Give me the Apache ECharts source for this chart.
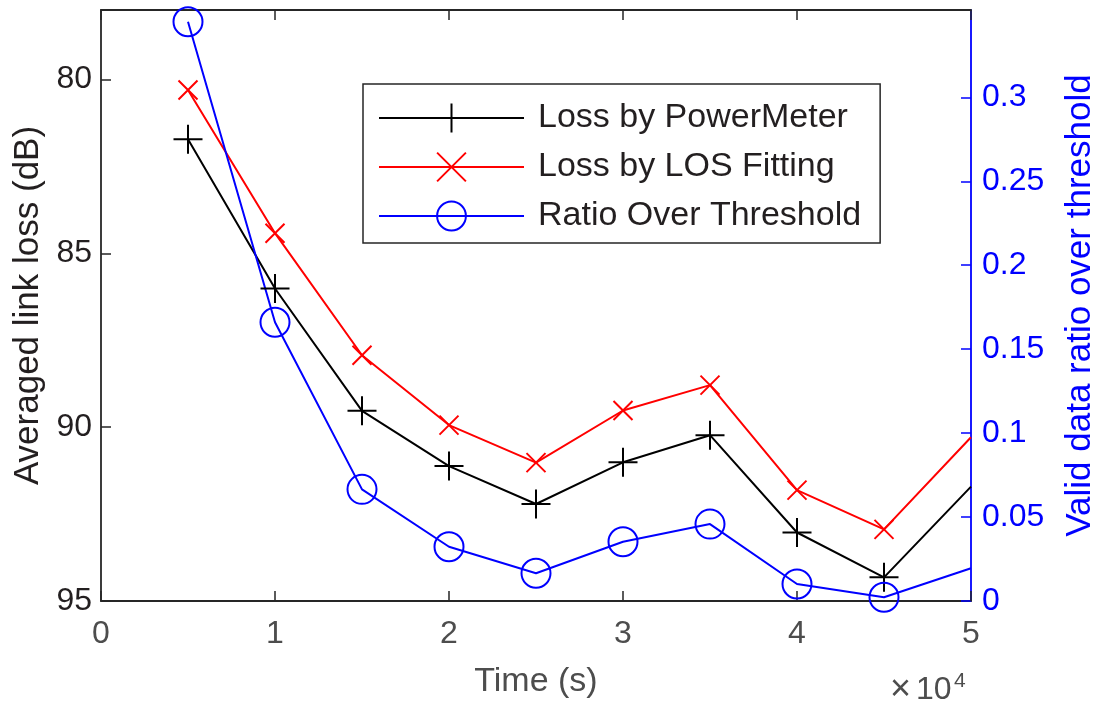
<!DOCTYPE html>
<html>
<head>
<meta charset="utf-8">
<script src="https://cdn.jsdelivr.net/npm/echarts@6/dist/echarts.min.js"></script>
<style>
html,body{margin:0;padding:0;background:#fff;}
#chart{width:1099px;height:710px;}
</style>
</head>
<body>
<div id="chart"></div>
<script>
// ---- data ----
const times = [5000, 10000, 15000, 20000, 25000, 30000, 35000, 40000, 45000, 50000];
const lossPowerMeter = [81.72, 86.01, 89.53, 91.12, 92.21, 91.01, 90.23, 93.03, 94.32, 91.71];
const lossLOSFitting = [80.30, 84.42, 87.93, 89.94, 91.02, 89.52, 88.79, 91.81, 92.94, 90.29];
const ratioOverThreshold = [0.345, 0.166, 0.0665, 0.0323, 0.0165, 0.0353, 0.0458, 0.0101, 0.0022, 0.0195];
const seriesNames = ['Loss by PowerMeter', 'Loss by LOS Fitting', 'Ratio Over Threshold'];
const xTicks = [0, 10000, 20000, 30000, 40000, 50000];
const leftTicks = [80, 85, 90, 95];
const rightTicks = [0, 0.05, 0.1, 0.15, 0.2, 0.25, 0.3];

const FONT = '"Liberation Sans", Arial, Helvetica, sans-serif';
const AX = '#262626';

// last sample sits on the plot edge: no marker drawn there
function build(vals) {
  return vals.map((v, i) => {
    const item = { value: [times[i], v] };
    if (times[i] >= 50000) item.symbol = 'none';
    return item;
  });
}

const chart = echarts.init(document.getElementById('chart'), null, { renderer: 'canvas' });

const plusPath = 'path://M10,0L10,20M0,10L20,10';
const crossPath = 'path://M0,0L20,20M0,20L20,0';

const option = {
  animation: false,
  backgroundColor: '#ffffff',
  textStyle: { fontFamily: FONT },
  grid: { left: 101, right: 128, top: 10, bottom: 109, containLabel: false, outerBoundsMode: 'none' },
  legend: {
    orient: 'vertical',
    left: 363, top: 84,
    padding: [17, 19, 10, 15],
    itemWidth: 145, itemHeight: 36, itemGap: 15,
    borderColor: AX, borderWidth: 1.5,
    backgroundColor: '#ffffff',
    textStyle: { fontFamily: FONT, fontSize: 34, color: '#231f20', padding: [0, 0, 0, 9] },
    data: seriesNames
  },
  xAxis: [
    {
      type: 'value', position: 'bottom', min: 0, max: 50000, interval: 10000,
      axisLine: { show: true, onZero: false, lineStyle: { color: AX, width: 1.8 } },
      axisTick: { show: true, inside: true, length: 10, lineStyle: { color: AX, width: 1.5 } },
      axisLabel: { show: true, margin: 17, fontSize: 32, color: '#4d4d4d', fontFamily: FONT,
                   formatter: v => String(v / 10000) },
      splitLine: { show: false },
      name: 'Time (s)', nameLocation: 'middle', nameGap: 64,
      nameTextStyle: { fontSize: 34, color: '#4d4d4d', fontFamily: FONT }
    },
    {
      type: 'value', position: 'top', min: 0, max: 50000, interval: 10000,
      axisLine: { show: true, onZero: false, lineStyle: { color: AX, width: 1.8 } },
      axisTick: { show: true, inside: true, length: 10, lineStyle: { color: AX, width: 1.5 } },
      axisLabel: { show: false },
      splitLine: { show: false }
    }
  ],
  yAxis: [
    {
      type: 'value', position: 'left', inverse: true, min: 78, max: 95,
      axisLine: { show: true, onZero: false, lineStyle: { color: AX, width: 1.8 } },
      axisTick: { show: true, inside: true, length: 10, customValues: leftTicks, lineStyle: { color: AX, width: 1.5 } },
      axisLabel: { show: true, margin: 9, fontSize: 32, color: '#231f20', fontFamily: FONT, customValues: leftTicks },
      splitLine: { show: false },
      name: 'Averaged link loss (dB)', nameLocation: 'middle', nameGap: 55, nameRotate: 90,
      nameTextStyle: { fontSize: 35, color: '#231f20', fontFamily: FONT }
    },
    {
      type: 'value', position: 'right', min: 0, max: 0.352,
      axisLine: { show: true, onZero: false, lineStyle: { color: '#0000ff', width: 1.8 } },
      axisTick: { show: true, inside: true, length: 10, customValues: rightTicks, lineStyle: { color: '#0000ff', width: 1.5 } },
      axisLabel: { show: true, margin: 11, fontSize: 32, color: '#0000ff', fontFamily: FONT, customValues: rightTicks,
                   formatter: v => String(+v.toFixed(2)) },
      splitLine: { show: false },
      name: 'Valid data ratio over threshold', nameLocation: 'middle', nameGap: 92, nameRotate: 90,
      nameTextStyle: { fontSize: 35, color: '#0000ff', fontFamily: FONT }
    }
  ],
  series: [
    {
      name: seriesNames[0], type: 'line', xAxisIndex: 0, yAxisIndex: 0,
      data: build(lossPowerMeter),
      symbol: plusPath, symbolSize: 29,
      lineStyle: { color: '#000000', width: 2 },
      itemStyle: { color: 'transparent', borderColor: '#000000', borderWidth: 2 },
      emphasis: { disabled: true }, clip: true, z: 3
    },
    {
      name: seriesNames[1], type: 'line', xAxisIndex: 0, yAxisIndex: 0,
      data: build(lossLOSFitting),
      symbol: crossPath, symbolSize: 19,
      lineStyle: { color: '#ff0000', width: 2 },
      itemStyle: { color: 'transparent', borderColor: '#ff0000', borderWidth: 2 },
      emphasis: { disabled: true }, clip: true, z: 3
    },
    {
      name: seriesNames[2], type: 'line', xAxisIndex: 0, yAxisIndex: 1,
      data: build(ratioOverThreshold),
      symbol: 'circle', symbolSize: 29,
      lineStyle: { color: '#0000ff', width: 2 },
      itemStyle: { color: 'transparent', borderColor: '#0000ff', borderWidth: 2 },
      emphasis: { disabled: true }, clip: true, z: 3
    }
  ],
  graphic: [
    { type: 'text', left: 890, top: 672, z: 10,
      style: { text: '\u00d7', font: '36px ' + FONT, fill: '#4d4d4d' } },
    { type: 'text', left: 916, top: 674, z: 10,
      style: { text: '10', font: '32px ' + FONT, fill: '#4d4d4d' } },
    { type: 'text', left: 954, top: 671, z: 10,
      style: { text: '4', font: '21px ' + FONT, fill: '#4d4d4d' } }
  ]
};
chart.setOption(option);
</script>
</body>
</html>
